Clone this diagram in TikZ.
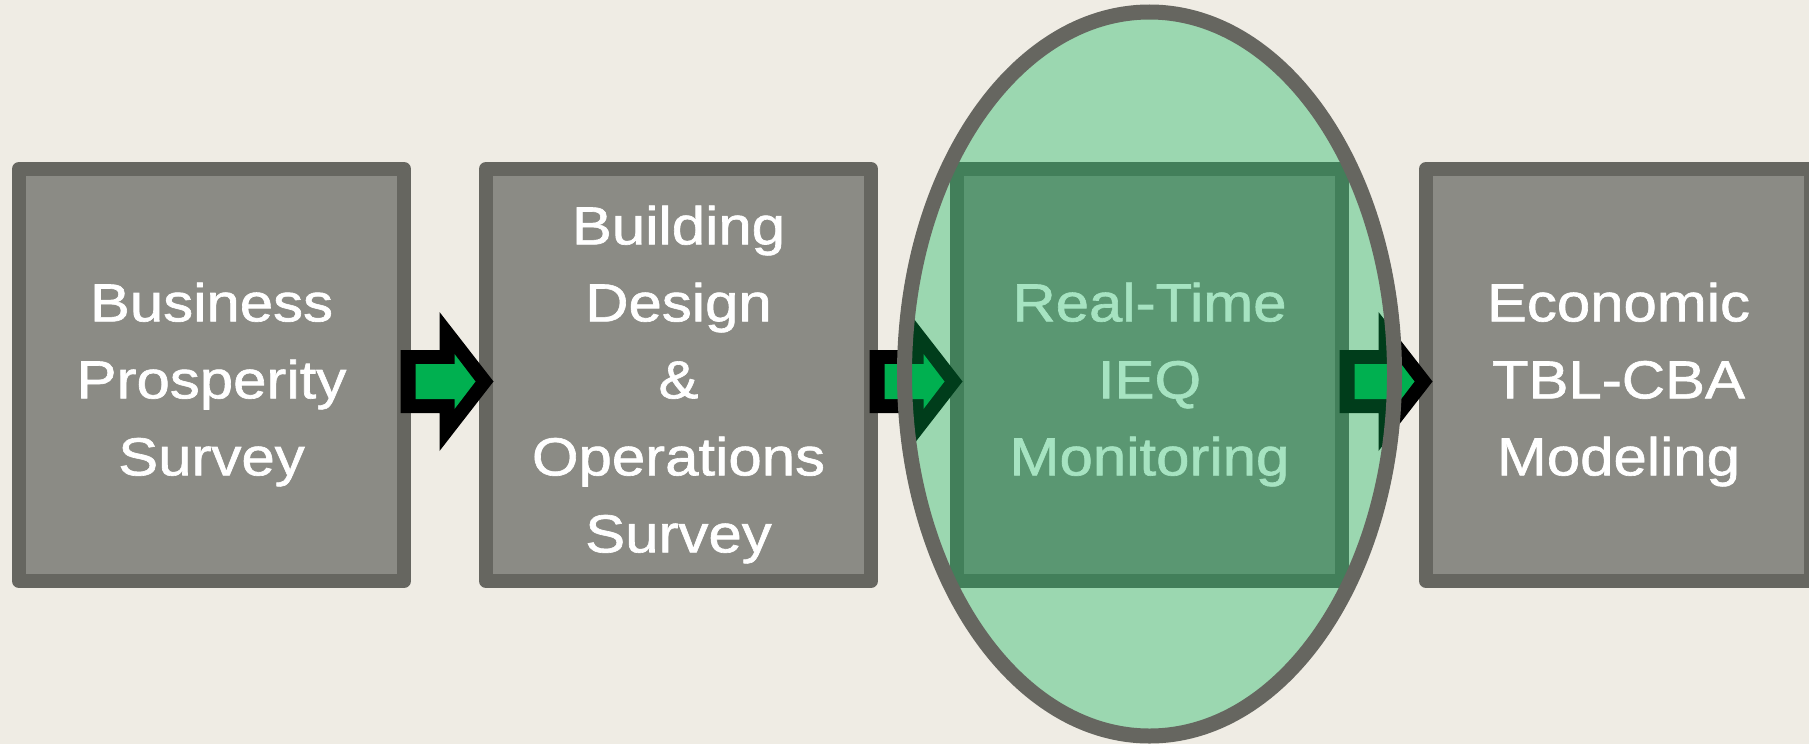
\documentclass[tikz,border=0pt]{standalone}
\usepackage{fontspec}
\setmainfont[FakeStretch=1.12,FakeBold=1.2]{Liberation Sans}
\usetikzlibrary{shapes.geometric,calc}
\definecolor{bgcream}{RGB}{239,236,228}
\definecolor{boxfill}{RGB}{139,139,133}
\definecolor{boxline}{RGB}{102,102,96}
\definecolor{agreen}{RGB}{0,176,80}
\newcommand\blockarrowat[1]{%
  \fill[black, shift={(#1)}] (0,-31.5) -- (39,-31.5) -- (39,-69.5) -- (93,0) -- (39,69.5) -- (39,31.5) -- (0,31.5) -- cycle;
  \fill[agreen, shift={(#1)}] (15,-17.5) -- (54,-17.5) -- (54,-27.5) -- (75,0) -- (54,27.5) -- (54,17.5) -- (15,17.5) -- cycle;}
\begin{document}
\begin{tikzpicture}[x=1pt,y=-1pt,
  stepbox/.style={draw=boxline, fill=boxfill, line width=14pt, line join=round,
    minimum width=385pt, minimum height=412pt, inner sep=0pt},
  boxtext/.style={text=white, align=center, inner sep=0pt,
    font=\fontsize{53.5pt}{77pt}\selectfont},
  focus/.style={ellipse, draw=boxline, line width=15pt, fill=agreen, fill opacity=0.35,
    minimum width=490pt, minimum height=724pt, inner sep=0pt}
  ]
\useasboundingbox (0,0) rectangle (1809,744);
\clip (0,0) rectangle (1809,744);
\fill[bgcream] (0,0) rectangle (1809,744);
% boxes
\node[stepbox] (b1) at (211.5,375) {};
\node[stepbox] (b2) at (678.5,375) {};
\node[stepbox] (b3) at (1149.5,375) {};
\node[stepbox] (b4) at (1618.5,375) {};
% texts
\node[boxtext] (t1) at ($(b1.center)+(0,9.5)$) {Business\\Prosperity\\Survey};
\node[boxtext] (t2) at ($(b2.center)+(0,9.5)$) {Building\\Design\\\&\\Operations\\Survey};
\node[boxtext] (t3) at ($(b3.center)+(0,9.5)$) {Real-Time\\IEQ\\Monitoring};
\node[boxtext] (t4) at ($(b4.center)+(0,9.5)$) {Economic\\TBL-CBA\\Modeling};
% block arrows
\coordinate (a1) at ($(b1.east)!0.5!(b2.west)+(-44.5,6.5)$);
\coordinate (a2) at ($(b2.east)!0.5!(b3.west)+(-44.5,6.5)$);
\coordinate (a3) at ($(b3.east)!0.5!(b4.west)+(-44.5,6.5)$);
\blockarrowat{a1}
\blockarrowat{a2}
\blockarrowat{a3}
% highlight ellipse
\node[focus] (ell) at ($(b3.center)+(0,-1)$) {};
\end{tikzpicture}
\end{document}
